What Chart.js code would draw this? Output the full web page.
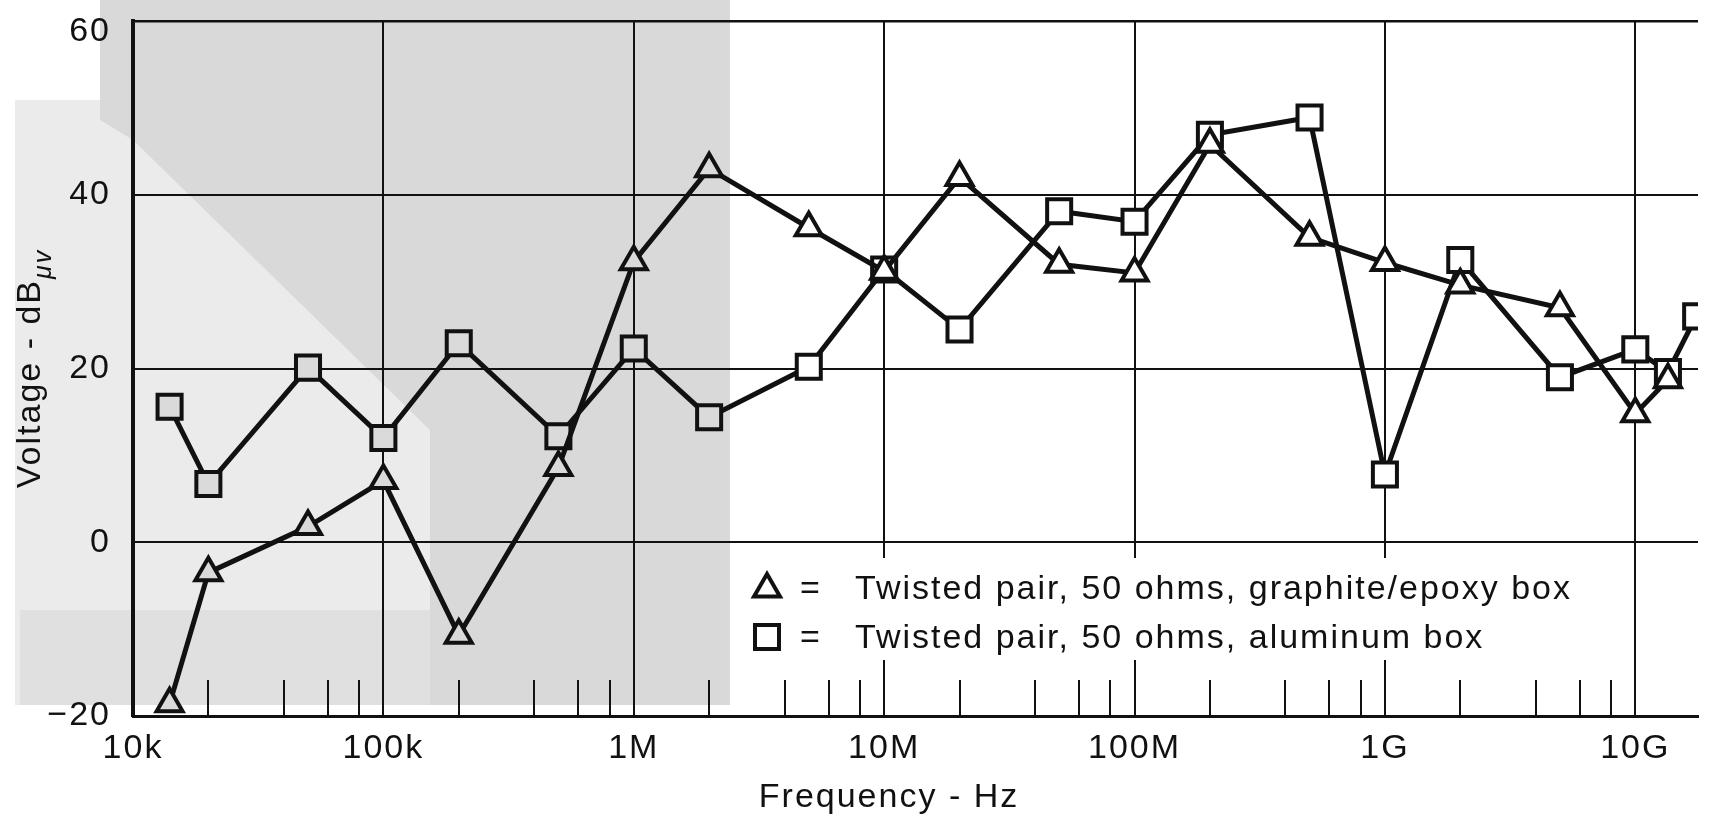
<!DOCTYPE html>
<html>
<head>
<meta charset="utf-8">
<script src="https://cdn.jsdelivr.net/npm/chart.js@4/dist/chart.umd.min.js"></script>
<style>
  html, body { margin: 0; padding: 0; background: #ffffff; }
  #wrap { width: 1719px; height: 815px; position: relative; }
  canvas { display: block; }
</style>
</head>
<body>
<div id="wrap"><canvas id="c" width="1719" height="815"></canvas></div>
<script>
// ---------- data ----------
const triFreqs  = [1.4e4, 2e4, 5e4, 1e5, 2e5, 5e5, 1e6, 2e6, 5e6, 1e7, 2e7, 5e7, 1e8, 2e8, 5e8, 1e9, 2e9, 5e9, 1e10, 1.35e10];
const triValues = [-18.6, -3.5, 1.8, 7.1, -10.7, 8.6, 32.3, 43.0, 36.2, 31.2, 42.0, 32.0, 31.0, 45.8, 35.1, 32.2, 29.6, 27.0, 14.8, 18.7];

const sqFreqs  = [1.4e4, 2e4, 5e4, 1e5, 2e5, 5e5, 1e6, 2e6, 5e6, 1e7, 2e7, 5e7, 1e8, 2e8, 5e8, 1e9, 2e9, 5e9, 1e10, 1.35e10, 1.75e10];
const sqValues = [15.6, 6.7, 20.1, 12.0, 22.9, 12.2, 22.3, 14.4, 20.2, 31.4, 24.5, 38.1, 36.9, 46.9, 48.9, 7.8, 32.5, 19.0, 22.2, 19.6, 26.0];

const seriesLabels = ['Twisted pair, 50 ohms, graphite/epoxy box', 'Twisted pair, 50 ohms, aluminum box'];

const xTickValues = [1e4, 1e5, 1e6, 1e7, 1e8, 1e9, 1e10];
const xTickLabels = ['10k', '100k', '1M', '10M', '100M', '1G', '10G'];
const minorMultipliers = [2, 4, 6, 8];

const yTickValues = [-20, 0, 20, 40, 60];
const yTickLabels = ['\u221220', '0', '20', '40', '60'];

const xTitle = 'Frequency - Hz';
const yTitleMain = 'Voltage - dB';
const yTitleSub = '\u03bcv';

// ---------- styling ----------
const FONT = '"Liberation Sans", Arial, Helvetica, sans-serif';
const INK = '#111111';
const GRAY_EDGE = 2.4e6;   // markers left of this sit on the grey scan background
const markerFill = (c) => (c.raw && c.raw.x < GRAY_EDGE) ? '#dadada' : '#ffffff';

const toPoints = (xs, ys) => xs.map((x, i) => ({ x: x, y: ys[i] }));

const decor = {
  id: 'decor',
  beforeLayout(chart) { chart.ctx.letterSpacing = '2px'; },
  beforeDraw(chart) {
    const ctx = chart.ctx;
    ctx.save();
    ctx.fillStyle = '#ffffff';
    ctx.fillRect(0, 0, chart.width, chart.height);
    // grey bleed-through of the scanned page
    ctx.fillStyle = '#ebebeb';
    ctx.fillRect(15, 100, 715, 605);
    ctx.fillStyle = '#d9d9d9';
    ctx.beginPath();
    ctx.moveTo(100, 0); ctx.lineTo(730, 0); ctx.lineTo(730, 705);
    ctx.lineTo(430, 705); ctx.lineTo(430, 430); ctx.lineTo(133, 140); ctx.lineTo(100, 120);
    ctx.closePath(); ctx.fill();
    ctx.fillStyle = '#e0e0e0';
    ctx.fillRect(20, 610, 410, 95);
    ctx.restore();
    ctx.letterSpacing = '2px';
  },
  beforeDatasetsDraw(chart) {
    const ctx = chart.ctx;
    const a = chart.chartArea;
    const xs = chart.scales.x;
    ctx.save();
    ctx.letterSpacing = '2px';
    // legend panel hides the grid
    ctx.fillStyle = '#ffffff';
    ctx.fillRect(745, 558, 855, 102);
    // inner tick marks along the frequency axis
    ctx.strokeStyle = INK;
    ctx.lineWidth = 2;
    for (let d = 4; d <= 10; d++) {
      const major = Math.pow(10, d);
      if (major <= xs.max) {
        const p = Math.round(xs.getPixelForValue(major));
        ctx.beginPath(); ctx.moveTo(p, a.bottom); ctx.lineTo(p, a.bottom - 56); ctx.stroke();
      }
      minorMultipliers.forEach(m => {
        const v = m * major;
        if (v < xs.max) {
          const p = Math.round(xs.getPixelForValue(v));
          ctx.beginPath(); ctx.moveTo(p, a.bottom); ctx.lineTo(p, a.bottom - 36); ctx.stroke();
        }
      });
    }
    // legend
    const rows = [{ y: 599, style: 'triangle' }, { y: 648, style: 'rect' }];
    ctx.strokeStyle = INK;
    ctx.lineWidth = 4;
    rows.forEach((r, i) => {
      const cx = 767, cy = r.y - 10;
      ctx.beginPath();
      if (r.style === 'triangle') {
        const R = 15;
        ctx.moveTo(cx, cy - R);
        ctx.lineTo(cx + R * Math.sin(2 * Math.PI / 3), cy + R / 2);
        ctx.lineTo(cx - R * Math.sin(2 * Math.PI / 3), cy + R / 2);
        ctx.closePath();
      } else {
        ctx.rect(cx - 12, cy - 13, 24, 24);
      }
      ctx.fillStyle = '#ffffff'; ctx.fill();
      ctx.stroke();
      ctx.fillStyle = INK;
      ctx.font = '34px ' + FONT;
      ctx.textBaseline = 'alphabetic';
      ctx.textAlign = 'center';
      ctx.fillText('=', 811, r.y);
      ctx.textAlign = 'left';
      ctx.fillText(chart.data.datasets[i].label, 855, r.y);
    });
    ctx.restore();
  },
  afterDraw(chart) {
    const ctx = chart.ctx;
    ctx.save();
    ctx.letterSpacing = '2px';
    ctx.fillStyle = INK;
    ctx.textBaseline = 'alphabetic';
    // x title
    ctx.font = '34px ' + FONT;
    ctx.textAlign = 'center';
    ctx.fillText(xTitle, 889, 807);
    // y title with subscript
    const a = chart.chartArea;
    ctx.translate(40, (a.top + a.bottom) / 2);
    ctx.rotate(-Math.PI / 2);
    ctx.font = '34px ' + FONT;
    const wMain = ctx.measureText(yTitleMain).width;
    ctx.font = 'italic 25px ' + FONT;
    const wSub = ctx.measureText(yTitleSub).width;
    const start = -(wMain + wSub) / 2;
    ctx.textAlign = 'left';
    ctx.font = '34px ' + FONT;
    ctx.fillText(yTitleMain, start, 0);
    ctx.font = 'italic 25px ' + FONT;
    ctx.fillText(yTitleSub, start + wMain, 11);
    ctx.restore();
  }
};

new Chart(document.getElementById('c'), {
  type: 'line',
  data: {
    datasets: [
      {
        label: seriesLabels[0],
        data: toPoints(triFreqs, triValues),
        borderColor: INK, borderWidth: 5,
        pointStyle: 'triangle', pointRadius: 15, pointBorderWidth: 4,
        pointBorderColor: INK, pointBackgroundColor: markerFill,
        tension: 0, fill: false
      },
      {
        label: seriesLabels[1],
        data: toPoints(sqFreqs, sqValues),
        borderColor: INK, borderWidth: 5,
        pointStyle: 'rect', pointRadius: 17, pointBorderWidth: 4,
        pointBorderColor: INK, pointBackgroundColor: markerFill,
        tension: 0, fill: false
      }
    ]
  },
  options: {
    responsive: false,
    devicePixelRatio: 1,
    animation: false,
    layout: { padding: { top: 16, right: 0, bottom: 0, left: 0 } },
    plugins: { legend: { display: false }, tooltip: { enabled: false } },
    scales: {
      x: {
        type: 'logarithmic',
        min: 1e4, max: 1.78e10,
        afterBuildTicks: (s) => { s.ticks = xTickValues.map(v => ({ value: v })); },
        afterFit: (s) => { s.height = 99; s.paddingLeft = 0; s.paddingRight = 0; s.paddingTop = 0; s.paddingBottom = 0; },
        ticks: {
          callback: (v) => { const i = xTickValues.indexOf(v); return i >= 0 ? xTickLabels[i] : ''; },
          font: { family: FONT, size: 34 },
          color: INK, padding: 12, maxRotation: 0, autoSkip: false
        },
        grid: { color: INK, lineWidth: 2, drawTicks: false },
        border: { color: INK, width: 3 }
      },
      y: {
        type: 'linear',
        min: -20, max: 60,
        afterBuildTicks: (s) => { s.ticks = yTickValues.map(v => ({ value: v })); },
        afterFit: (s) => { s.width = 133; s.paddingTop = 0; s.paddingBottom = 0; s.paddingLeft = 0; s.paddingRight = 0; },
        ticks: {
          // the top label sits just below its line in the reference (second line of a two-line label)
          callback: (v) => {
            const i = yTickValues.indexOf(v);
            if (i < 0) return '';
            return i === yTickValues.length - 1 ? ['', yTickLabels[i]] : yTickLabels[i];
          },
          font: (c) => (c.tick && c.tick.value === 60)
            ? { family: FONT, size: 34, lineHeight: 0.65 }
            : { family: FONT, size: 34, lineHeight: 0.9 },
          color: INK, padding: 22
        },
        grid: { color: INK, lineWidth: (c) => (c.tick && c.tick.value === 60) ? 2.5 : 2, drawTicks: false },
        border: { color: INK, width: 4 }
      }
    }
  },
  plugins: [decor]
});
</script>
</body>
</html>
